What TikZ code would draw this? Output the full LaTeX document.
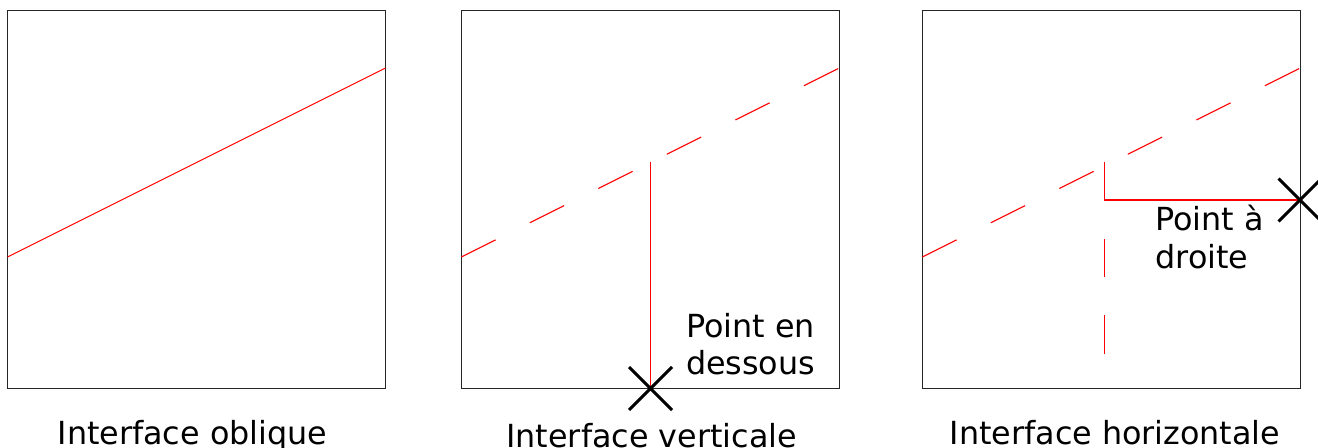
\documentclass[tikz,border=0pt]{standalone}
\usepackage{fontspec}
\setmainfont{DejaVu Sans}
\usetikzlibrary{positioning,shapes.misc}

\begin{document}
\begin{tikzpicture}[
  x=0.5pt, y=-0.5pt,
  frame/.style={draw=black!85, line width=0.5pt},
  iface/.style={draw=red, line width=0.55pt},
  dashiface/.style={iface, dash pattern=on 19.15pt off 19.15pt},
  caption/.style={anchor=base, inner sep=0pt, font=\fontsize{15.9}{19}\selectfont},
  pointlabel/.style={anchor=base west, inner sep=0pt, align=left,
                     font=\fontsize{15.9}{18.65}\selectfont},
  crossmark/.style={draw=black, cross out, line width=1.5pt, inner sep=0pt,
                    outer sep=0pt, minimum size=21.5pt},
]
\useasboundingbox (0,0) rectangle (1318,448);
\clip (0,0) rectangle (1318,448);

% Frames
\draw[frame] (7.5,11) rectangle (385.5,388.5);
\draw[frame] (461.3,11) rectangle (839.3,388.5);
\draw[frame] (922.3,11) rectangle (1300.3,388.5);

% Oblique interface
\coordinate (a_l) at (7.5,257);
\coordinate (a_r) at (385.5,68);
\draw[iface] (a_l) -- (a_r);
\node[caption] (cap_a) at (192.5,445) {Interface oblique};

% Vertical interface
\coordinate (b_l) at (461.3,257);
\coordinate (b_r) at (839.3,68);
\coordinate (b_top) at (650.5,162.3);
\coordinate (b_pt) at (650.5,388.5);
\draw[dashiface] (b_l) -- (b_r);
\draw[iface] (b_top) -- (b_pt);
\node[crossmark] (cross_b) at (b_pt) {};
\node[pointlabel] (lbl_b) at (685.7,375) {Point en\\dessous};
\node[caption] (cap_b) at (651.7,447.6) {Interface verticale};

% Horizontal interface
\coordinate (c_l) at (922.3,257);
\coordinate (c_r) at (1300.3,68);
\coordinate (c_top) at (1104.5,162.3);
\coordinate (c_bot) at (1104.5,388.5);
\coordinate (c_knee) at (1104.5,200);
\coordinate (c_pt) at (1300,200);
\draw[dashiface] (c_l) -- (c_r);
\draw[dashiface] (c_top) -- (c_bot);
\draw[iface, line width=0.7pt] (c_knee) -- (c_pt);
\node[crossmark] (cross_c) at (c_pt) {};
\node[pointlabel] (lbl_c) at (1155,268.3) {Point à\\droite};
\node[caption] (cap_c) at (1115,445) {Interface horizontale};
\end{tikzpicture}
\end{document}
